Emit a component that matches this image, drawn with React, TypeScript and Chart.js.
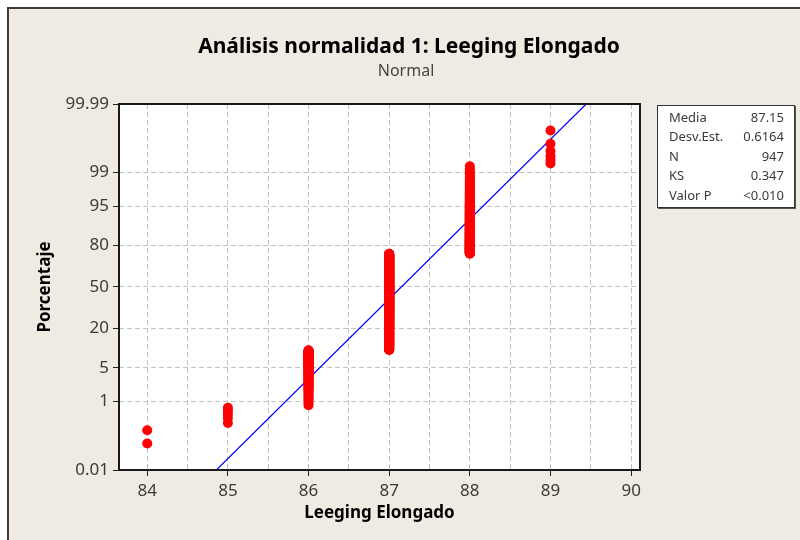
import React, { useEffect, useRef } from "react";
import { Chart, registerables } from "chart.js";

Chart.register(...registerables);

const titleText = "Análisis normalidad 1: Leeging Elongado";
const subtitleText = "Normal";
const xAxisTitle = "Leeging Elongado";
const yAxisTitle = "Porcentaje";

// observed (discrete) values and how many of the 947 observations fall on each
const values = [84, 85, 86, 87, 88, 89];
const counts = [2, 5, 87, 617, 230, 6];

// fitted normal line
const fitMean = 87.15;
const fitStdDev = 0.6164;

// axis ticks
const yTickPercents = [0.01, 1, 5, 20, 50, 80, 95, 99, 99.99];
const yTickLabels = ["0.01", "1", "5", "20", "50", "80", "95", "99", "99.99"];
const xTickValues = [84, 85, 86, 87, 88, 89, 90];
const xGridValues = [84, 84.5, 85, 85.5, 86, 86.5, 87, 87.5, 88, 88.5, 89, 89.5, 90];

// statistics box
const statLabels = ["Media", "Desv.Est.", "N", "KS", "Valor P"];
const statValues = ["87.15", "0.6164", "947", "0.347", "<0.010"];

const FONT = "'Noto Sans', 'DejaVu Sans', sans-serif";

// inverse standard normal CDF (Acklam)
function normInv(p: number): number {
  const a = [-3.969683028665376e1, 2.209460984245205e2, -2.759285104469687e2, 1.38357751867269e2, -3.066479806614716e1, 2.506628277459239];
  const b = [-5.447609879822406e1, 1.615858368580409e2, -1.556989798598866e2, 6.680131188771972e1, -1.328068155288572e1];
  const c = [-7.784894002430293e-3, -3.223964580411365e-1, -2.400758277161838, -2.549671348283925, 4.374664141464968, 2.938163982698783];
  const d = [7.784695709041462e-3, 3.224671290700398e-1, 2.445134137142996, 3.754408661907416];
  const pl = 0.02425;
  const ph = 1 - pl;
  if (p < pl) {
    const q = Math.sqrt(-2 * Math.log(p));
    return (((((c[0] * q + c[1]) * q + c[2]) * q + c[3]) * q + c[4]) * q + c[5]) / ((((d[0] * q + d[1]) * q + d[2]) * q + d[3]) * q + 1);
  }
  if (p <= ph) {
    const q = p - 0.5;
    const r = q * q;
    return ((((((a[0] * r + a[1]) * r + a[2]) * r + a[3]) * r + a[4]) * r + a[5]) * q) / (((((b[0] * r + b[1]) * r + b[2]) * r + b[3]) * r + b[4]) * r + 1);
  }
  const q = Math.sqrt(-2 * Math.log(1 - p));
  return -(((((c[0] * q + c[1]) * q + c[2]) * q + c[3]) * q + c[4]) * q + c[5]) / ((((d[0] * q + d[1]) * q + d[2]) * q + d[3]) * q + 1);
}

const framePlugin = {
  id: "framePlugin",
  beforeDraw(chart: any) {
    const { ctx, chartArea } = chart;
    ctx.save();
    ctx.fillStyle = "#ffffff";
    ctx.fillRect(chartArea.left, chartArea.top, chartArea.right - chartArea.left, chartArea.bottom - chartArea.top);
    ctx.restore();
  },
  afterDraw(chart: any) {
    const { ctx, chartArea } = chart;
    ctx.save();
    ctx.strokeStyle = "#1a1a1a";
    ctx.lineWidth = 2;
    ctx.strokeRect(chartArea.left, chartArea.top, chartArea.right - chartArea.left, chartArea.bottom - chartArea.top);

    const cx = (chartArea.left + chartArea.right) / 2;
    const cy = (chartArea.top + chartArea.bottom) / 2;

    ctx.textAlign = "center";
    ctx.textBaseline = "alphabetic";
    ctx.fillStyle = "#000000";
    ctx.font = `bold 21px ${FONT}`;
    ctx.fillText(titleText, 409, 53);

    ctx.fillStyle = "#444444";
    ctx.font = `16px ${FONT}`;
    ctx.fillText(subtitleText, 406, 76);

    ctx.fillStyle = "#000000";
    ctx.font = `bold 17px ${FONT}`;
    ctx.fillText(xAxisTitle, cx, 518);

    ctx.translate(50, cy);
    ctx.rotate(-Math.PI / 2);
    ctx.fillText(yAxisTitle, 0, 0);
    ctx.restore();
  },
};

export default function App() {
  const canvasRef = useRef<HTMLCanvasElement | null>(null);

  useEffect(() => {
    const points: { x: number; y: number }[] = [];
    const n = counts.reduce((s, v) => s + v, 0);
    let rank = 0;
    values.forEach((v, k) => {
      for (let j = 0; j < counts[k]; j++) {
        rank += 1;
        points.push({ x: v, y: normInv((rank - 0.3) / (n + 0.4)) });
      }
    });

    const zMin = normInv(yTickPercents[0] / 100);
    const zMax = normInv(yTickPercents[yTickPercents.length - 1] / 100);
    const fitLine = [
      { x: fitMean + zMin * fitStdDev, y: zMin },
      { x: fitMean + zMax * fitStdDev, y: zMax },
    ];

    const chart = new Chart(canvasRef.current as HTMLCanvasElement, {
      type: "scatter",
      data: {
        datasets: [
          {
            type: "scatter",
            data: points,
            pointRadius: 5,
            pointHoverRadius: 5,
            backgroundColor: "#ff0000",
            borderWidth: 0,
          } as any,
          {
            type: "line",
            data: fitLine,
            borderColor: "#0000ff",
            borderWidth: 1.2,
            pointRadius: 0,
            fill: false,
          } as any,
        ],
      },
      options: {
        animation: false,
        responsive: false,
        events: [],
        layout: { padding: { left: 0, top: 104, right: 160, bottom: 0 } },
        plugins: {
          legend: { display: false },
          tooltip: { enabled: false },
          title: { display: false },
        },
        scales: {
          x: {
            type: "linear",
            min: 83.65,
            max: 90.11,
            afterBuildTicks(scale: any) {
              scale.ticks = xGridValues.map((v) => ({ value: v }));
            },
            afterFit(scale: any) {
              scale.height = 70;
            },
            ticks: {
              autoSkip: false,
              maxRotation: 0,
              padding: 5,
              color: "#3a3a3a",
              font: { family: FONT, size: 17 },
              callback: (value: any) => (xTickValues.includes(Number(value)) ? String(value) : ""),
            },
            grid: {
              color: "#c2c2c2",
              lineWidth: 1,
              tickLength: 6,
              tickWidth: 1,
              tickColor: (ctx: any) => (ctx.tick && xTickValues.includes(ctx.tick.value) ? "#222222" : "rgba(0,0,0,0)"),
            },
            border: { display: false, dash: [5, 3] },
          },
          y: {
            type: "linear",
            min: zMin,
            max: zMax,
            afterBuildTicks(scale: any) {
              scale.ticks = yTickPercents.map((p) => ({ value: normInv(p / 100) }));
            },
            afterFit(scale: any) {
              scale.width = 119;
            },
            ticks: {
              autoSkip: false,
              padding: 4,
              color: "#3a3a3a",
              font: { family: FONT, size: 17 },
              callback: (_value: any, index: number) => yTickLabels[index],
            },
            grid: {
              color: "#c2c2c2",
              lineWidth: 1,
              tickLength: 6,
              tickWidth: 1,
              tickColor: "#222222",
            },
            border: { display: false, dash: [5, 3] },
          },
        },
      } as any,
      plugins: [framePlugin],
    });

    return () => chart.destroy();
  }, []);

  return (
    <div style={{ position: "relative", width: 800, height: 540, background: "#ffffff", overflow: "hidden" }}>
      <style>{"body{margin:0;}"}</style>
      <div
        style={{
          position: "absolute",
          left: 7,
          top: 7,
          width: 793,
          height: 533,
          background: "#EFEBE2",
          borderTop: "2px solid #3c3c3c",
          borderLeft: "2px solid #3c3c3c",
          boxSizing: "border-box",
        }}
      />
      <canvas ref={canvasRef} width={800} height={540} style={{ position: "absolute", left: 0, top: 0, width: 800, height: 540 }} />
      <div
        style={{
          position: "absolute",
          left: 657,
          top: 105,
          width: 138,
          height: 103,
          boxSizing: "border-box",
          background: "#ffffff",
          border: "1px solid #333333",
          boxShadow: "1px 1px 0 #555555",
          padding: "2px 10px 0 11px",
          fontFamily: FONT,
          fontSize: 13,
          color: "#3a3a3a",
        }}
      >
        {statLabels.map((label, i) => (
          <div key={label} style={{ display: "flex", justifyContent: "space-between", height: 19.4, lineHeight: "19.4px" }}>
            <span>{label}</span>
            <span>{statValues[i]}</span>
          </div>
        ))}
      </div>
    </div>
  );
}
